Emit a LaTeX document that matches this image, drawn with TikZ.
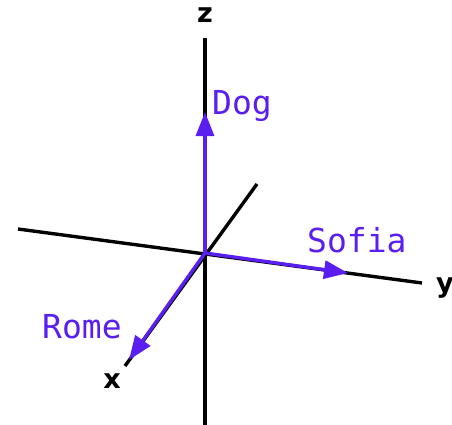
\documentclass[tikz,border=0pt]{standalone}
\usepackage{fontspec}
\setsansfont{DejaVu Sans}
\setmonofont{DejaVu Sans Mono}
\usetikzlibrary{arrows.meta}
\definecolor{vecpurple}{HTML}{5A1EF0}
\tikzset{
	axis/.style={draw=black, line width=3.4pt},
	vec/.style={draw=vecpurple, line width=3.4pt, -{Triangle[length=24pt,width=18pt]}},
	axlabel/.style={font=\sffamily\bfseries\fontsize{27}{27}\selectfont, inner sep=0pt, anchor=base},
	veclabel/.style={font=\ttfamily\fontsize{33}{33}\selectfont, text=vecpurple, inner sep=0pt, anchor=base west}
}
\begin{document}
\begin{tikzpicture}[x=1pt, y=-1pt]
			\useasboundingbox (0,0) rectangle (452,425);
			% axes
			\coordinate (o) at (205,253);
			\coordinate (ztop) at (205,38);
			\coordinate (zbot) at (205,425);
			\coordinate (yleft) at (18,229);
			\coordinate (yright) at (422,283);
			\coordinate (xback) at (257,184);
			\coordinate (xfront) at (125,366);
			\draw[axis] (ztop) -- (zbot);
			\draw[axis] (yleft) -- (yright);
			\draw[axis] (xback) -- (xfront);
			\node[axlabel] (zlab) at (205,23) {z};
			\node[axlabel] (ylab) at (445,292) {y};
			\node[axlabel] (xlab) at (112,388) {x};
			% vectors
			\coordinate (dog) at (205,112);
			\coordinate (sofia) at (348,273);
			\coordinate (rome) at (129,360);
			\draw[vec] (o) -- (dog);
			\draw[vec] (o) -- (sofia);
			\draw[vec] (o) -- (rome);
			\node[veclabel] (doglab) at (212,115) {Dog};
			\node[veclabel] (sofialab) at (307,252) {Sofia};
			\node[veclabel] (romelab) at (42,338) {Rome};
		\end{tikzpicture}
\end{document}
